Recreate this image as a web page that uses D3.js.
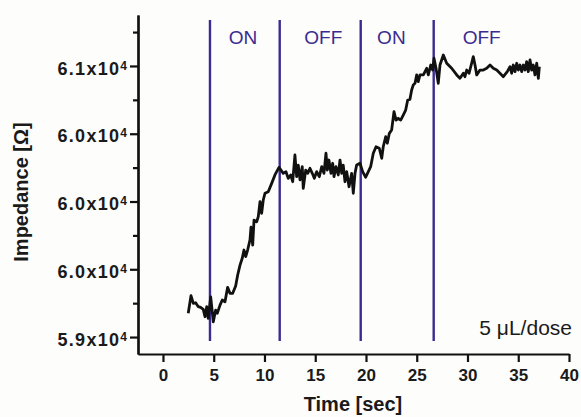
<!DOCTYPE html>
<html>
<head>
<meta charset="utf-8">
<script src="https://cdn.jsdelivr.net/npm/d3@7"></script>
<style>
  body { margin: 0; background: #fdfdfb; }
  svg { font-family: "Liberation Sans", Arial, sans-serif; }
</style>
</head>
<body>
<script>
// time in seconds, impedance in ohm
const time = [2.49,2.76,2.99,3.22,3.48,3.71,3.97,4.14,4.31,4.46,4.70,4.96,5.19,5.35,5.62,5.84,6.11,6.37,6.60,6.87,
  7.16,7.36,7.59,7.81,7.98,8.15,8.34,8.57,8.67,8.84,8.97,9.23,9.39,9.56,9.72,9.88,10.05,10.37,10.71,11.03,11.43,
  11.85,12.12,12.34,12.58,12.78,13.00,13.17,13.33,13.50,13.72,13.82,14.06,14.26,14.48,14.71,14.91,15.14,15.40,15.64,15.86,
  16.06,16.19,16.35,16.55,16.72,16.85,17.04,17.27,17.44,17.61,17.76,17.93,18.10,18.33,18.59,18.75,18.92,
  19.08,19.41,19.67,19.97,20.23,20.46,20.72,20.99,21.31,21.55,21.70,21.94,22.10,22.30,22.53,22.76,22.96,23.18,23.42,23.67,
  23.91,24.11,24.33,24.50,24.66,24.83,24.99,25.15,25.32,
  25.65,25.98,26.14,26.38,26.57,26.70,26.90,27.12,27.29,27.62,27.95,28.44,28.94,29.26,29.59,29.75,29.92,30.15,30.41,30.57,
  30.74,30.91,31.23,31.56,31.89,32.22,32.54,32.88,33.20,33.53,33.92,34.19,34.35,34.51,34.68,34.85,35.01,35.17,35.34,35.50,
  35.67,35.83,35.99,36.16,36.32,36.48,36.65,36.82,36.98,37.08];

const impedance = [59175,59305,59249,59253,59224,59219,59204,59150,59224,59138,59297,59113,59199,59175,59236,59273,59261,59367,59323,59323,
  59376,59458,59531,59581,59642,59593,59642,59716,59810,59679,59863,59851,59888,59999,59913,60011,60061,60072,60134,60196,60252,
  60208,60220,60171,60196,60146,60343,60183,60269,60159,60257,60097,60232,60208,60245,60208,60171,60220,60183,60257,60208,
  60356,60232,60306,60208,60282,60183,60257,60196,60306,60208,60269,60146,60220,60109,60208,60061,60208,
  60269,60282,60220,60179,60220,60257,60356,60404,60393,60319,60404,60478,60430,60503,60528,60663,60601,60614,60601,60638,
  60675,60749,60754,60823,60860,60872,60934,60884,60934,
  60934,60983,60934,61007,60970,61057,60983,60872,61007,61081,61020,60983,60934,60909,60946,60921,60970,60946,61020,61069,
  61007,60934,60970,60970,60983,61007,60983,60970,60946,60921,60958,60995,60946,61007,60958,61020,60970,61007,60958,61007,
  60970,61032,60958,61044,60970,61007,60934,61020,60909,60995];

const switchTimes = [4.63, 11.5, 19.48, 26.67];
const phaseLabels = ['ON', 'OFF', 'ON', 'OFF'];
const phaseLabelTimes = [7.88, 15.8, 22.5, 31.4];

const xTicks = [0, 5, 10, 15, 20, 25, 30, 35, 40];
const yTicks = [59000, 59500, 60000, 60500, 61000];
const yTickLabels = ['5.9', '6.0', '6.0', '6.0', '6.1'];
const yMinorTicks = [59250, 59750, 60250, 60750, 61250];

const width = 581;
const height = 417;
const purple = '#3b2b90';

const svg = d3.select('body')
  .append('svg')
  .attr('width', width)
  .attr('height', height);

const x = d3.scaleLinear().domain([-2.46, 40]).range([138, 569]);
const y = d3.scaleLinear().domain([58875, 61376]).range([354, 15]);

// switching lines
svg.selectAll('.switch')
  .data(switchTimes)
  .enter()
  .append('line')
  .attr('class', 'switch')
  .attr('x1', d => x(d))
  .attr('x2', d => x(d))
  .attr('y1', y(61340))
  .attr('y2', y(58970))
  .attr('stroke', purple)
  .attr('stroke-width', 2.4);

svg.selectAll('.phase')
  .data(phaseLabels)
  .enter()
  .append('text')
  .attr('class', 'phase')
  .attr('x', (d, i) => x(phaseLabelTimes[i]))
  .attr('y', 43.5)
  .attr('text-anchor', 'middle')
  .attr('font-size', '19px')
  .attr('fill', purple)
  .text(d => d);

// impedance trace
const line = d3.line()
  .x((d, i) => x(time[i]))
  .y(d => y(d));

svg.append('path')
  .datum(impedance)
  .attr('d', line)
  .attr('fill', 'none')
  .attr('stroke', '#111')
  .attr('stroke-width', 2.8)
  .attr('stroke-linejoin', 'round');

// axes
const gx = svg.append('g')
  .attr('transform', 'translate(0,354)')
  .call(d3.axisBottom(x).tickValues(xTicks).tickSize(8).tickSizeOuter(0).tickPadding(7));

const gyMinor = svg.append('g')
  .attr('transform', 'translate(138,0)')
  .call(d3.axisLeft(y).tickValues(yMinorTicks).tickSize(5).tickSizeOuter(0).tickFormat(''));

const gy = svg.append('g')
  .attr('transform', 'translate(138,0)')
  .call(d3.axisLeft(y).tickValues(yTicks).tickSize(8).tickSizeOuter(0).tickPadding(3));

[gx, gy, gyMinor].forEach(g => {
  g.selectAll('path, line').attr('stroke', '#111').attr('stroke-width', 2.2);
});

gx.selectAll('text')
  .attr('font-size', '17px')
  .attr('font-weight', 'bold')
  .attr('fill', '#1a1a1a')
  .attr('font-family', '"Liberation Sans", Arial, sans-serif');

gy.selectAll('.tick text')
  .each(function (d, i) {
    const t = d3.select(this)
      .text(yTickLabels[i] + 'x10')
      .attr('dy', '0.45em')
      .attr('font-size', '18px')
      .attr('font-weight', 'bold')
      .attr('letter-spacing', '1.3px')
      .attr('fill', '#1a1a1a')
      .attr('font-family', '"Liberation Sans", Arial, sans-serif');
    t.append('tspan')
      .attr('dy', '-5')
      .attr('font-size', '12px')
      .attr('letter-spacing', '0px')
      .text('4');
  });

// axis titles
svg.append('text')
  .attr('x', 353)
  .attr('y', 411)
  .attr('text-anchor', 'middle')
  .attr('font-size', '20px')
  .attr('font-weight', 'bold')
  .attr('fill', '#1a1a1a')
  .text('Time [sec]');

svg.append('text')
  .attr('transform', 'translate(28,192) rotate(-90)')
  .attr('text-anchor', 'middle')
  .attr('font-size', '20px')
  .attr('font-weight', 'bold')
  .attr('fill', '#1a1a1a')
  .text('Impedance [Ω]');

svg.append('text')
  .attr('x', 572)
  .attr('y', 335)
  .attr('text-anchor', 'end')
  .attr('font-size', '21px')
  .attr('fill', '#1a1a1a')
  .text('5 μL/dose');
</script>
</body>
</html>
